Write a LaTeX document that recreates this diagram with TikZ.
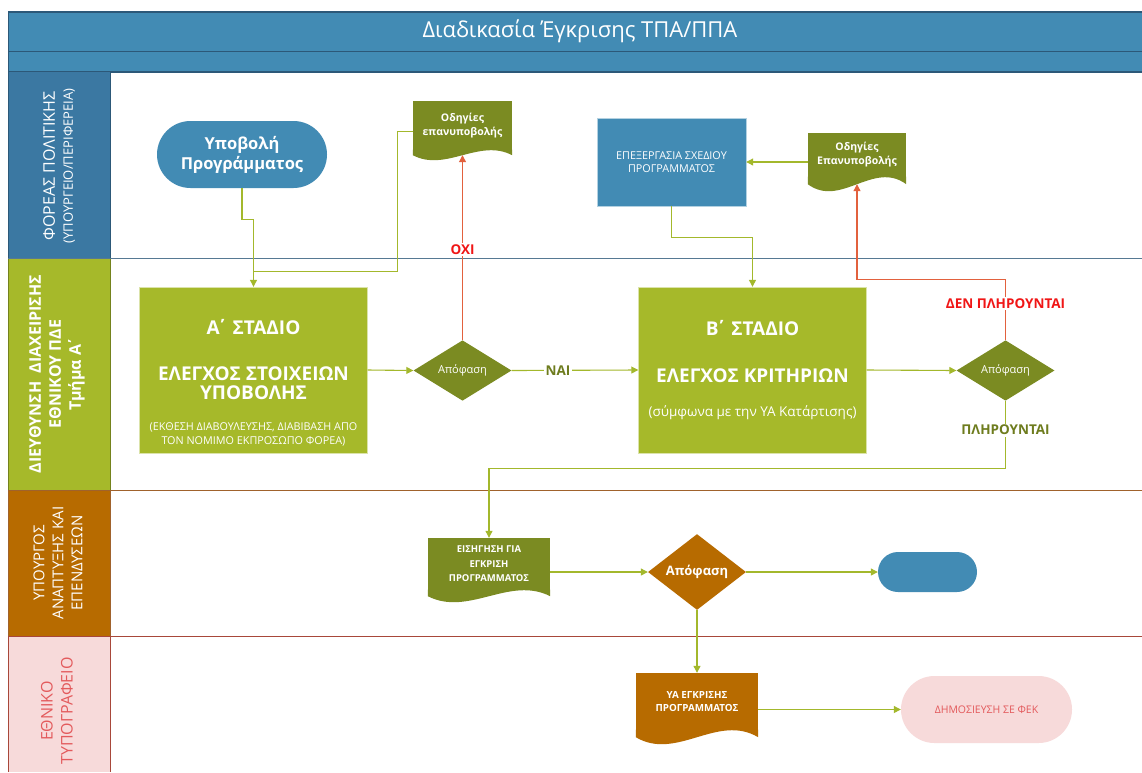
\documentclass[tikz,border=0pt]{standalone}
\usepackage{fontspec}
\setmainfont{Open Sans}
\usepackage{tikz}
\usetikzlibrary{positioning,arrows.meta,shapes.geometric,calc}
\definecolor{bandblue}{HTML}{428BB4}
\definecolor{headblue}{HTML}{3B78A2}
\definecolor{darkline}{HTML}{2C5878}
\definecolor{lanegreen}{HTML}{A6B92A}
\definecolor{docolive}{HTML}{7B8B22}
\definecolor{stepbrown}{HTML}{B76B00}
\definecolor{pinkfill}{HTML}{F7DADA}
\definecolor{pinktext}{HTML}{E35A5C}
\definecolor{redline}{HTML}{E2613E}
\definecolor{labelred}{HTML}{F01616}
\definecolor{labelolive}{HTML}{6E7C1E}
\definecolor{linegreen}{HTML}{A3B82C}
\definecolor{sepbrown}{HTML}{A0622C}
\definecolor{seprose}{HTML}{A8473A}
% wavy lower edge of a document node: node, colour, amplitude
\newcommand{\docwave}[3]{%
  \fill[#2] let \p1=(#1.south west), \p2=(#1.south east) in
    (\x1,\y1+0.6pt) -- (\x1,\y1-#3)
    .. controls ({\x1+(\x2-\x1)/3},{\y1-4.46*#3}) and ({\x1+2*(\x2-\x1)/3},{\y1+2.46*#3}) ..
    (\x2,\y1-#3) -- (\x2,\y1+0.6pt) -- cycle;}

\begin{document}
\begin{tikzpicture}[x=1pt,y=-1pt,
    flow/.style={draw=linegreen,line width=1.1pt,-{Triangle[length=7pt,width=7pt]}},
    link/.style={draw=linegreen,line width=1.1pt},
    back/.style={draw=redline,line width=1.1pt,-{Triangle[length=7pt,width=7pt]}},
    lanehead/.style={rotate=90,align=center,inner sep=0pt},
    stagebox/.style={rectangle,fill=lanegreen,draw=white!60!lanegreen,minimum width=228pt,minimum height=166pt},
    stagehead/.style={text=white,font=\bfseries\fontsize{19}{19.5}\selectfont,align=center},
    decision/.style={diamond,fill=#1,text=white,minimum width=98pt,minimum height=57pt,inner sep=0pt,font=\fontsize{11}{13}\selectfont},
    docbox/.style={rectangle,fill=#1,text=white,align=center,inner sep=1pt,font=\bfseries\fontsize{10.5}{14}\selectfont},
    terminal/.style={rectangle,rounded corners=#1,fill=bandblue,inner sep=0pt,align=center},
    nolabel/.style={fill=white,text=labelred,font=\bfseries\fontsize{13.5}{15}\selectfont,inner sep=1.5pt},
    yeslabel/.style={fill=white,text=labelolive,font=\bfseries\fontsize{13.5}{15}\selectfont,inner sep=1.5pt}
  ]
  \useasboundingbox (0,0) rectangle (1142,772);
  \fill[white] (0,0) rectangle (1142,772);

  % title bands
  \fill[bandblue] (8,12) rectangle (1142,72);
  \draw[darkline,line width=1.4pt] (8,12) -- (1142,12) (8,51.5) -- (1142,51.5) (8,72) -- (1142,72);
  \draw[darkline] (8,12) -- (8,72);
  \node[text=white,font=\fontsize{22}{26}\selectfont] (title) at (580,31) {Διαδικασία Έγκρισης ΤΠΑ/ΠΠΑ};

  % lanes
  \fill[headblue] (8,72) rectangle (110,258);
  \fill[lanegreen] (8,258) rectangle (110,490);
  \fill[stepbrown] (8,490) rectangle (110,636);
  \fill[pinkfill] (8,636) rectangle (110,772);
  \draw[darkline] (8,72) -- (8,258) (110,72) -- (110,258);
  \draw[lanegreen!70!black] (8,258) -- (8,490) (110,258) -- (110,490);
  \draw[sepbrown] (8,490) -- (8,636) (110,490) -- (110,636);
  \draw[seprose] (8,636) -- (8,772) (110,636) -- (110,772);
  \draw[darkline!80,line width=0.9pt] (8,258) -- (1142,258);
  \draw[sepbrown,line width=0.9pt] (8,490) -- (1142,490);
  \draw[seprose,line width=0.9pt] (8,636) -- (1142,636);

  \node[lanehead,text=white,font=\fontsize{16}{18}\selectfont] (laneA) at (59,166)
    {ΦΟΡΕΑΣ ΠΟΛΙΤΙΚΗΣ\\{\fontsize{13}{18}\selectfont(ΥΠΟΥΡΓΕΙΟ/ΠΕΡΙΦΕΡΕΙΑ)}};
  \node[lanehead,text=white,font=\bfseries\fontsize{16}{20}\selectfont] (laneB) at (57,374)
    {ΔΙΕΥΘΥΝΣΗ \ ΔΙΑΧΕΙΡΙΣΗΣ\\ΕΘΝΙΚΟΥ ΠΔΕ\\Τμήμα Α\kern-2pt΄};
  \node[lanehead,text=white,font=\fontsize{15}{19}\selectfont] (laneC) at (58,563)
    {ΥΠΟΥΡΓΟΣ\\ΑΝΑΠΤΥΞΗΣ ΚΑΙ\\ΕΠΕΝΔΥΣΕΩΝ};
  \node[lanehead,text=pinktext,font=\fontsize{16}{20}\selectfont] (laneD) at (57,711)
    {ΕΘΝΙΚΟ\\ΤΥΠΟΓΡΑΦΕΙΟ};

  % lane 1
  \node[terminal=33.5pt,minimum width=170pt,minimum height=67pt,text=white,font=\bfseries\fontsize{16.5}{20}\selectfont] (submit) at (242,154.5) {Υποβολή\\Προγράμματος};
  \node[docbox=docolive,minimum width=99pt,minimum height=49pt] (doc1) at (462.5,125.5) {Οδηγίες\\επανυποβολής};
  \docwave{doc1}{docolive}{5pt}
  \node[rectangle,fill=bandblue,draw=white!60!bandblue,minimum width=149pt,minimum height=88pt,text=white,align=center,font=\fontsize{10.8}{13}\selectfont] (proc) at (671.5,162) {ΕΠΕΞΕΡΓΑΣΙΑ ΣΧΕΔΙΟΥ\\ΠΡΟΓΡΑΜΜΑΤΟΣ};
  \node[docbox=docolive,minimum width=98pt,minimum height=44pt] (doc2) at (857,155) {Οδηγίες\\Επανυποβολής};
  \docwave{doc2}{docolive}{7pt}

  % lane 2
  \node[stagebox] (stageA) at (253.5,370) {};
  \node[stagehead] (stageAhead) at (253.5,327) {Α\kern-3pt΄ ΣΤΑΔΙΟ};
  \node[stagehead] (stageAbody) at (253.5,383) {ΕΛΕΓΧΟΣ ΣΤΟΙΧΕΙΩΝ\\ΥΠΟΒΟΛΗΣ};
  \node[text=white,align=center,font=\fontsize{10.8}{14}\selectfont] (stageAnote) at (253.5,434) {(ΕΚΘΕΣΗ ΔΙΑΒΟΥΛΕΥΣΗΣ, ΔΙΑΒΙΒΑΣΗ ΑΠΟ\\ΤΟΝ ΝΟΜΙΜΟ ΕΚΠΡΟΣΩΠΟ ΦΟΡΕΑ)};
  \node[decision=docolive] (dec1) at (462.5,370.5) {Απόφαση};
  \node[stagebox] (stageB) at (752.5,370) {};
  \node[stagehead] (stageBhead) at (752.5,328) {Β\kern-3pt΄ ΣΤΑΔΙΟ};
  \node[stagehead] (stageBbody) at (752.5,376) {ΕΛΕΓΧΟΣ ΚΡΙΤΗΡΙΩΝ};
  \node[text=white,font=\fontsize{13.5}{15}\selectfont] (stageBnote) at (752.5,413) {(σύμφωνα με την ΥΑ Κατάρτισης)};
  \node[decision=docolive] (dec2) at (1005.5,370.5) {Απόφαση};

  % lane 3
  \node[docbox=docolive,minimum width=122pt,minimum height=52pt,font=\bfseries\fontsize{9.5}{14.5}\selectfont] (doc3) at (489,564) {ΕΙΣΗΓΗΣΗ ΓΙΑ\\ΕΓΚΡΙΣΗ\\ΠΡΟΓΡΑΜΜΑΤΟΣ};
  \docwave{doc3}{docolive}{6pt}
  \node[decision=stepbrown,font=\bfseries\fontsize{13}{15}\selectfont] (dec3) at (697,572) {Απόφαση};
  \node[terminal=20pt,minimum width=99pt,minimum height=40pt] (endA) at (927.5,572) {};

  % lane 4
  \node[docbox=stepbrown,minimum width=122pt,minimum height=57pt,font=\bfseries\fontsize{9.8}{13.5}\selectfont] (doc4) at (697,701.5) {ΥΑ ΕΓΚΡΙΣΗΣ\\ΠΡΟΓΡΑΜΜΑΤΟΣ};
  \docwave{doc4}{stepbrown}{7pt}
  \node[terminal=33.5pt,fill=pinkfill,minimum width=171pt,minimum height=67pt,text=pinktext,font=\fontsize{10.5}{13}\selectfont] (fek) at (986.5,709.5) {ΔΗΜΟΣΙΕΥΣΗ ΣΕ ΦΕΚ};

  % connectors
  \draw[flow] (submit.south) -- ++(0,31) -| (stageA.north);
  \draw[link] ([yshift=-6pt]doc1.west) -- ++(-15,0) |- ($(stageA.north)+(0,-15)$);
  \draw[flow] (stageA.east) -- (dec1.west);
  \draw[back] (dec1.north) -- node[nolabel,pos=0.49]{ΟΧΙ} ([yshift=-5pt]doc1.south);
  \draw[flow] (dec1.east) -- node[yeslabel,pos=0.365]{ΝΑΙ} (stageB.west);
  \draw[flow] (proc.south) -- ++(0,31) -| (stageB.north);
  \draw[flow] (doc2.west |- proc.east) -- (proc.east);
  \draw[flow] (stageB.east) -- (dec2.west);
  \draw[back] (dec2.north) -- node[nolabel,pos=0.6]{ΔΕΝ ΠΛΗΡΟΥΝΤΑΙ} ++(0,-61) -| ([yshift=-7pt]doc2.south);
  \draw[flow] (dec2.south) -- node[yeslabel,pos=0.43]{ΠΛΗΡΟΥΝΤΑΙ} ++(0,68) -| (doc3.north);
  \draw[flow] (doc3.east |- dec3.west) -- (dec3.west);
  \draw[flow] (dec3.east) -- (endA.west);
  \draw[flow] (dec3.south) -- (doc4.north);
  \draw[flow] (doc4.east |- fek.west) -- (fek.west);
\end{tikzpicture}
\end{document}
